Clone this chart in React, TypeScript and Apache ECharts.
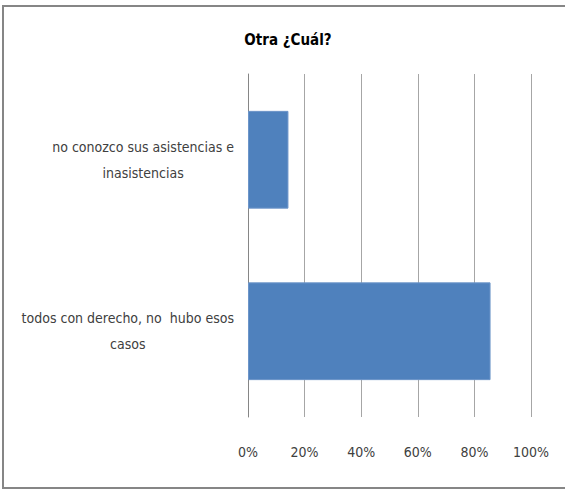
import React, { useEffect, useRef } from "react";
import * as echarts from "echarts";

const titleText = "Otra ¿Cuál?";
const categories = [
  "no conozco sus asistencias e\ninasistencias",
  "todos con derecho, no  hubo esos\ncasos",
];
const values = [14.29, 85.71];
const tickMin = 0;
const tickMax = 100;
const tickStep = 20;

const labelFont = "'DejaVu Sans Condensed', 'Liberation Sans', sans-serif";

export default function App() {
  const ref = useRef<HTMLDivElement>(null);
  useEffect(() => {
    if (!ref.current) return;
    const chart = echarts.init(ref.current, null, { renderer: "svg" });
    chart.setOption({
      animation: false,
      backgroundColor: "#ffffff",
      title: {
        text: titleText,
        left: 283,
        top: 27,
        textAlign: "center",
        textStyle: {
          fontFamily: labelFont,
          fontSize: 15,
          fontWeight: "bold",
          color: "#000000",
        },
      },
      graphic: [
        {
          type: "rect",
          shape: { x: 3, y: 6, width: 620, height: 482 },
          style: { fill: "none", stroke: "#868686", lineWidth: 2 },
          silent: true,
        },
      ],
      grid: {
        left: 248,
        right: 34,
        top: 74,
        bottom: 73,
        containLabel: false,
        outerBoundsMode: "none",
      },
      xAxis: {
        type: "value",
        min: tickMin,
        max: tickMax,
        interval: tickStep,
        axisLine: { show: false },
        axisTick: { show: false },
        splitLine: { show: true, lineStyle: { color: "#a6a6a6", width: 1 } },
        axisLabel: {
          formatter: (v: number) => `${v}%`,
          margin: 28,
          fontFamily: labelFont,
          fontSize: 14,
          color: "#404040",
        },
      },
      yAxis: {
        type: "category",
        data: categories,
        inverse: true,
        axisLine: { show: true, lineStyle: { color: "#868686", width: 1 } },
        axisTick: { show: false },
        axisLabel: {
          margin: 14,
          align: "right",
          formatter: (v: string) =>
            v
              .split("\n")
              .map((l) => `{a|${l}}`)
              .join("\n"),
          rich: {
            a: {
              align: "center",
              fontFamily: labelFont,
              fontSize: 14,
              color: "#404040",
              lineHeight: 26,
            },
          },
        },
      },
      series: [
        {
          type: "bar",
          data: values,
          barCategoryGap: "43%",
          itemStyle: { color: "#4f81bd", borderColor: "#6d95c9", borderWidth: 1 },
        },
      ],
    });
    return () => chart.dispose();
  }, []);
  return (
    <div
      ref={ref}
      style={{ position: "absolute", left: 0, top: 0, width: 565, height: 490 }}
    />
  );
}
